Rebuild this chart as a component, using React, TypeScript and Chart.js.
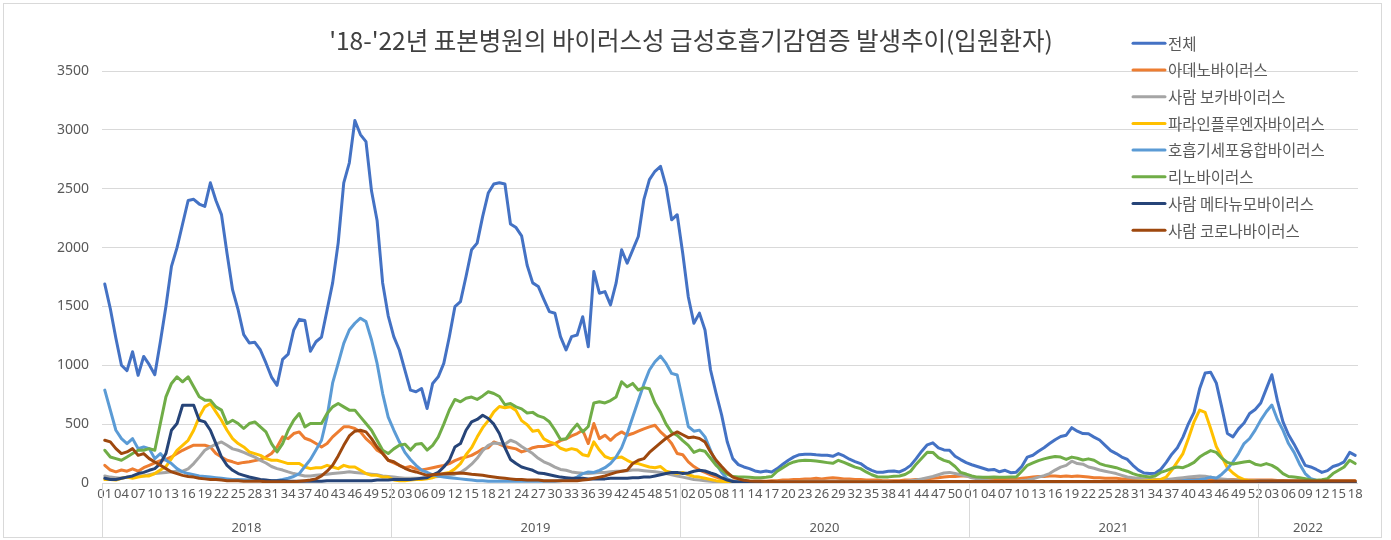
import React, { useEffect, useRef } from "react";
import { Chart, registerables } from "chart.js";

Chart.register(...registerables);

const TITLE = "'18-'22년 표본병원의 바이러스성 급성호흡기감염증 발생추이(입원환자)";
const years = ["2018", "2019", "2020", "2021", "2022"];
const weeksPerYear = [52, 52, 52, 52, 18];
const yMax = 3500;
const yStep = 500;
const seriesNames = [
  "전체",
  "아데노바이러스",
  "사람 보카바이러스",
  "파라인플루엔자바이러스",
  "호흡기세포융합바이러스",
  "리노바이러스",
  "사람 메타뉴모바이러스",
  "사람 코로나바이러스",
];
const seriesColors = ["#4472C4", "#ED7D31", "#A5A5A5", "#FFC000", "#5B9BD5", "#70AD47", "#264478", "#9E480E"];

// 전체
const total = [
  1690, 1480, 1230, 1000, 955, 1115, 915, 1075, 1005, 920,
  1200, 1500, 1840, 2000, 2200, 2400, 2410, 2370, 2350, 2550,
  2400, 2280, 1950, 1640, 1470, 1260, 1190, 1195, 1130, 1020,
  900, 830, 1050, 1095, 1300, 1390, 1380, 1120, 1200, 1240,
  1470, 1700, 2040, 2550, 2720, 3080, 2960, 2900, 2480, 2230,
  1700, 1420,
  1243, 1130, 959, 789, 775, 803, 633, 846, 902, 1016,
  1243, 1498, 1541, 1754, 1981, 2038, 2265, 2463, 2540, 2550,
  2540, 2200, 2170, 2100, 1850, 1700, 1670, 1560, 1456, 1442,
  1243, 1130, 1243, 1257, 1413, 1158, 1796, 1612, 1626, 1513,
  1697, 1981, 1867, 1981, 2094, 2407, 2577, 2648, 2690, 2520,
  2236, 2279,
  1950, 1580, 1357, 1443, 1300, 960, 761, 577, 350, 207,
  156, 136, 122, 102, 94, 102, 94, 122, 159, 193,
  222, 241, 244, 244, 239, 236, 236, 227, 250, 230,
  202, 182, 165, 131, 108, 91, 91, 99, 102, 94,
  116, 150, 207, 270, 324, 341, 298, 281, 278, 227,
  199, 173,
  155, 140, 125, 110, 115, 95, 108, 88, 92, 140,
  220, 236, 270, 300, 335, 368, 395, 406, 470, 440,
  420, 418, 390, 365, 320, 275, 250, 220, 200, 150,
  110, 85, 80, 82, 115, 175, 245, 300, 390, 505,
  600, 800, 935, 940, 850, 640, 420, 392, 460, 510,
  590, 625,
  680, 800, 920, 700, 520, 410, 330, 240, 150, 136,
  115, 90, 105, 140, 155, 180, 260, 235,
];

// 아데노바이러스
const adeno = [
  150, 110, 95, 110, 100, 120, 100, 130, 150, 170,
  190, 200, 221, 250, 278, 300, 321, 321, 321, 306,
  250, 220, 193, 180, 165, 175, 180, 190, 200, 220,
  250, 306, 392, 377, 420, 434, 380, 363, 335, 306,
  335, 392, 434, 477, 477, 463, 434, 377, 335, 278,
  250, 193,
  170, 150, 130, 140, 120, 110, 120, 130, 140, 150,
  165, 190, 210, 220, 235, 260, 292, 300, 349, 330,
  310, 300, 290, 264, 278, 300, 310, 310, 321, 335,
  360, 375, 400, 420, 448, 335, 505, 377, 406, 363,
  406, 434, 406, 420, 440, 460, 477, 491, 434, 392,
  335, 250,
  240, 180, 140, 110, 90, 70, 50, 35, 25, 20,
  15, 15, 15, 15, 15, 15, 20, 20, 25, 25,
  30, 30, 35, 35, 40, 35, 40, 45, 40, 35,
  35, 30, 30, 25, 25, 25, 20, 20, 20, 20,
  25, 25, 30, 30, 35, 40, 45, 50, 55, 55,
  60, 60,
  50, 45, 40, 40, 35, 35, 30, 30, 35, 40,
  45, 50, 55, 55, 60, 60, 55, 60, 55, 60,
  55, 50, 45, 45, 40, 40, 40, 35, 35, 30,
  30, 30, 25, 25, 25, 25, 25, 30, 30, 30,
  35, 35, 35, 35, 30, 30, 30, 30, 25, 25,
  25, 25,
  25, 25, 25, 22, 22, 20, 20, 20, 20, 20,
  20, 20, 20, 20, 20, 20, 20, 20,
];

// 사람 보카바이러스
const boca = [
  60, 50, 45, 40, 50, 50, 60, 60, 70, 80,
  85, 90, 95, 100, 100, 120, 165, 220, 278, 306,
  330, 349, 320, 290, 278, 260, 240, 220, 193, 170,
  140, 122, 110, 94, 80, 70, 60, 60, 65, 70,
  75, 80, 85, 90, 95, 90, 85, 80, 75, 70,
  60, 55,
  50, 45, 40, 40, 40, 40, 45, 50, 55, 60,
  65, 75, 90, 120, 160, 210, 275, 320, 340, 335,
  330, 363, 345, 310, 280, 250, 210, 180, 160, 135,
  115, 108, 94, 88, 82, 80, 85, 90, 90, 95,
  100, 100, 105, 110, 110, 105, 100, 95, 90, 80,
  70, 60,
  50, 40, 30, 25, 20, 15, 10, 8, 5, 5,
  5, 5, 5, 5, 5, 5, 5, 8, 10, 10,
  12, 12, 15, 15, 15, 15, 15, 15, 15, 15,
  15, 12, 12, 12, 10, 10, 10, 10, 12, 12,
  15, 20, 25, 35, 45, 55, 70, 85, 90, 80,
  70, 60,
  45, 35, 25, 20, 15, 12, 12, 15, 15, 20,
  25, 35, 50, 62, 80, 110, 135, 150, 185, 165,
  160, 136, 125, 110, 100, 90, 80, 65, 51, 45,
  40, 35, 30, 30, 30, 30, 35, 40, 45, 50,
  55, 60, 57, 50, 40, 35, 30, 25, 25, 20,
  20, 20,
  20, 20, 18, 16, 15, 15, 15, 14, 12, 12,
  12, 12, 12, 12, 12, 12, 12, 12,
];

// 파라인플루엔자바이러스
const para = [
  30, 30, 25, 40, 50, 40, 50, 60, 60, 80,
  110, 140, 207, 278, 320, 363, 448, 562, 647, 675,
  604, 533, 448, 377, 335, 306, 264, 250, 235, 207,
  193, 193, 179, 165, 165, 165, 136, 122, 130, 130,
  150, 136, 122, 150, 136, 136, 108, 80, 65, 65,
  51, 51,
  25, 20, 20, 25, 30, 30, 35, 45, 65, 80,
  90, 120, 165, 240, 300, 390, 470, 530, 604, 650,
  640, 647, 615, 530, 495, 440, 448, 375, 349, 335,
  295, 278, 292, 280, 240, 230, 349, 280, 225, 207,
  215, 220, 193, 170, 165, 150, 136, 130, 140, 100,
  90, 80,
  90, 70, 55, 50, 40, 30, 20, 15, 10, 8,
  5, 4, 3, 3, 2, 2, 3, 3, 4, 5,
  5, 6, 6, 5, 5, 4, 4, 5, 5, 6,
  6, 7, 7, 6, 5, 5, 4, 4, 5, 5,
  6, 6, 7, 8, 8, 9, 10, 10, 12, 12,
  12, 12,
  10, 8, 8, 6, 6, 5, 5, 5, 6, 6,
  8, 8, 10, 10, 12, 12, 12, 12, 10, 10,
  10, 8, 8, 8, 8, 8, 8, 10, 10, 12,
  15, 18, 22, 26, 30, 51, 110, 180, 250, 380,
  520, 620, 600, 460, 310, 222, 130, 85, 50, 28,
  20, 15,
  12, 10, 10, 8, 8, 8, 6, 6, 6, 5,
  5, 5, 5, 5, 5, 5, 5, 5,
];

// 호흡기세포융합바이러스
const rsv = [
  789, 619, 448, 377, 335, 377, 292, 306, 292, 207,
  250, 193, 165, 122, 94, 80, 70, 60, 55, 50,
  45, 40, 35, 30, 30, 28, 25, 25, 22, 20,
  20, 22, 30, 40, 55, 80, 140, 200, 280, 363,
  562, 850, 1016, 1186, 1300, 1357, 1400, 1371, 1215, 1016,
  760, 560,
  450, 350, 260, 200, 150, 110, 90, 70, 60, 50,
  45, 40, 35, 30, 25, 20, 20, 15, 15, 15,
  15, 15, 15, 15, 15, 15, 15, 15, 15, 15,
  20, 25, 30, 50, 80, 94, 90, 108, 130, 165,
  220, 300, 420, 560, 700, 840, 960, 1030, 1078, 1016,
  931, 917,
  700, 480, 440, 449, 392, 278, 165, 90, 35, 15,
  10, 8, 5, 4, 3, 3, 2, 2, 2, 2,
  2, 2, 2, 2, 2, 2, 2, 2, 2, 2,
  2, 2, 2, 2, 2, 2, 2, 2, 3, 3,
  3, 3, 3, 3, 3, 3, 4, 4, 4, 5,
  5, 5,
  5, 5, 4, 4, 4, 4, 3, 3, 3, 3,
  3, 3, 3, 4, 4, 4, 5, 5, 5, 5,
  5, 5, 6, 6, 6, 6, 6, 6, 6, 6,
  5, 5, 5, 5, 6, 8, 10, 15, 20, 25,
  25, 30, 37, 50, 40, 75, 120, 180, 250, 335,
  378, 449,
  534, 605, 662, 540, 449, 335, 260, 160, 80, 37,
  23, 15, 10, 8, 5, 5, 5, 5,
];

// 리노바이러스
const rhino = [
  278, 221, 207, 193, 221, 250, 278, 278, 292, 278,
  505, 732, 846, 902, 860, 902, 817, 732, 704, 704,
  647, 619, 505, 533, 505, 463, 505, 519, 477, 434,
  335, 264, 335, 448, 533, 590, 477, 505, 505, 505,
  590, 647, 675, 647, 619, 619, 562, 505, 448, 363,
  278, 250,
  290, 320, 330, 280, 330, 335, 280, 320, 390, 500,
  620, 710, 690, 720, 730, 710, 740, 775, 760, 735,
  665, 675, 647, 630, 595, 600, 570, 555, 520, 450,
  370, 375, 445, 500, 435, 480, 680, 690, 680, 700,
  730, 860, 817, 846, 790, 810, 800, 680, 600, 500,
  430, 405,
  360, 320, 260, 280, 270, 210, 150, 110, 75, 55,
  50, 50, 48, 45, 45, 48, 55, 100, 130, 160,
  179, 190, 193, 192, 187, 180, 173, 167, 193, 175,
  155, 135, 122, 94, 70, 53, 51, 52, 57, 60,
  72, 100, 160, 210, 262, 260, 215, 192, 178, 140,
  90, 76,
  60, 50, 48, 48, 50, 48, 48, 50, 51, 100,
  150, 170, 190, 205, 216, 225, 220, 200, 220, 210,
  195, 205, 193, 165, 150, 140, 130, 114, 100, 80,
  65, 57, 51, 60, 90, 105, 125, 136, 130, 150,
  175, 220, 250, 275, 260, 210, 175, 162, 170, 179,
  185, 160,
  150, 165, 150, 122, 80, 55, 51, 45, 37, 25,
  23, 28, 37, 80, 108, 136, 193, 165,
];

// 사람 메타뉴모바이러스
const meta = [
  40, 30, 30, 40, 50, 60, 80, 90, 108, 122,
  165, 250, 448, 505, 661, 661, 661, 533, 519, 448,
  335, 221, 150, 108, 80, 65, 51, 40, 30, 25,
  20, 20, 20, 15, 15, 15, 15, 15, 15, 15,
  20, 20, 20, 20, 20, 20, 20, 20, 20, 25,
  25, 25,
  30, 30, 30, 30, 35, 40, 45, 70, 90, 136,
  193, 306, 335, 448, 519, 540, 576, 548, 500, 420,
  300, 200, 165, 136, 122, 108, 85, 80, 70, 60,
  50, 45, 40, 40, 40, 35, 35, 35, 35, 40,
  40, 40, 40, 45, 45, 50, 50, 60, 70, 80,
  90, 90,
  80, 85, 100, 108, 102, 85, 70, 45, 25, 12,
  8, 5, 4, 4, 3, 3, 3, 3, 3, 3,
  3, 3, 3, 3, 3, 3, 3, 3, 3, 3,
  3, 3, 3, 3, 3, 3, 3, 3, 3, 3,
  3, 3, 3, 3, 3, 3, 3, 3, 3, 4,
  4, 4,
  4, 4, 4, 3, 3, 3, 3, 3, 3, 3,
  3, 3, 3, 3, 3, 3, 3, 3, 3, 3,
  3, 3, 3, 3, 3, 3, 3, 3, 3, 3,
  3, 3, 3, 3, 3, 3, 3, 3, 3, 3,
  3, 3, 3, 3, 3, 4, 4, 4, 4, 4,
  5, 5,
  5, 5, 5, 5, 5, 5, 4, 4, 4, 4,
  4, 4, 4, 4, 4, 4, 4, 4,
];

// 사람 코로나바이러스
const corona = [
  363, 349, 292, 250, 264, 292, 235, 250, 207, 179,
  150, 122, 94, 80, 65, 55, 50, 40, 35, 30,
  30, 25, 20, 20, 20, 15, 15, 15, 15, 10,
  10, 10, 10, 10, 10, 15, 20, 25, 35, 60,
  100, 150, 230, 320, 400, 440, 448, 434, 377, 306,
  250, 193,
  180, 150, 125, 105, 94, 80, 65, 70, 74, 78,
  80, 82, 85, 80, 74, 70, 65, 58, 51, 45,
  40, 35, 30, 30, 25, 25, 25, 20, 20, 20,
  20, 20, 20, 20, 25, 30, 40, 50, 60, 75,
  90, 100, 108, 165, 193, 207, 260, 300, 340, 380,
  410, 434,
  410, 385, 390, 378, 349, 264, 193, 140, 90, 50,
  35, 23, 18, 15, 15, 12, 12, 10, 10, 10,
  10, 10, 10, 10, 10, 10, 10, 10, 10, 10,
  10, 10, 10, 10, 10, 10, 10, 10, 12, 12,
  12, 12, 12, 12, 12, 12, 12, 12, 12, 12,
  12, 12,
  12, 12, 12, 12, 12, 12, 12, 12, 12, 12,
  12, 12, 12, 12, 13, 13, 13, 13, 13, 13,
  13, 13, 13, 13, 13, 13, 12, 12, 12, 12,
  12, 12, 12, 12, 12, 12, 12, 12, 12, 12,
  13, 13, 13, 13, 14, 14, 14, 14, 15, 15,
  15, 15,
  16, 16, 17, 17, 18, 18, 18, 18, 18, 18,
  18, 18, 18, 18, 18, 18, 18, 18,
];

const seriesValues = [total, adeno, boca, para, rsv, rhino, meta, corona];

const weekLabels: string[] = [];
years.forEach((_y, yi) => {
  for (let w = 1; w <= weeksPerYear[yi]; w++) weekLabels.push(String(w).padStart(2, "0"));
});

const W = 1391;
const H = 540;
const KR = "'Noto Sans CJK KR', 'Noto Sans', sans-serif";
const NUM = "'Noto Sans', 'Noto Sans CJK KR', sans-serif";

const decorPlugin = {
  id: "decor",
  beforeDraw(chart: any) {
    const { ctx } = chart;
    ctx.save();
    ctx.fillStyle = "#ffffff";
    ctx.fillRect(0, 0, W, H);
    ctx.restore();
  },
  afterDraw(chart: any) {
    const { ctx, chartArea, scales } = chart;
    const xs = scales.x;
    ctx.save();
    // chart frame
    ctx.strokeStyle = "#d9d9d9";
    ctx.lineWidth = 1;
    ctx.strokeRect(3.5, 3.5, 1378, 534);

    // title
    ctx.fillStyle = "#404040";
    ctx.font = `24.5px ${KR}`;
    ctx.textAlign = "center";
    ctx.textBaseline = "middle";
    ctx.fillText(TITLE, 691, 41);

    // year group dividers and labels
    const cw = xs.getPixelForValue(1) - xs.getPixelForValue(0);
    let start = 0;
    ctx.font = `13px ${NUM}`;
    ctx.fillStyle = "#595959";
    ctx.strokeStyle = "#d9d9d9";
    years.forEach((y, yi) => {
      const x0 = xs.getPixelForValue(start) - cw / 2;
      const x1 = xs.getPixelForValue(start + weeksPerYear[yi] - 1) + cw / 2;
      const xd = Math.round(x0) + 0.5;
      ctx.beginPath();
      ctx.moveTo(xd, chartArea.bottom);
      ctx.lineTo(xd, 537);
      ctx.stroke();
      ctx.fillText(y, (x0 + x1) / 2, 528);
      start += weeksPerYear[yi];
    });

    // legend
    ctx.textAlign = "left";
    ctx.font = `15.5px ${KR}`;
    seriesNames.forEach((name, i) => {
      const y = 43.3 + 26.7 * i;
      ctx.strokeStyle = seriesColors[i];
      ctx.lineWidth = 3;
      ctx.lineCap = "round";
      ctx.beginPath();
      ctx.moveTo(1133, y);
      ctx.lineTo(1165, y);
      ctx.stroke();
      ctx.fillStyle = "#595959";
      ctx.fillText(name, 1168, y + 0.5);
    });

    // data length sanity
    const bad = seriesValues.map((s) => s.length).filter((n) => n !== weekLabels.length);
    if (bad.length) {
      ctx.fillStyle = "red";
      ctx.font = "12px sans-serif";
      ctx.fillText("len " + seriesValues.map((s) => s.length).join(","), 10, 15);
    }
    ctx.restore();
  },
};

export default function App() {
  const ref = useRef<HTMLCanvasElement | null>(null);
  useEffect(() => {
    if (!ref.current) return;
    const chart = new Chart(ref.current, {
      type: "line",
      data: {
        labels: weekLabels,
        datasets: seriesNames.map((name, i) => ({
          label: name,
          data: seriesValues[i],
          borderColor: seriesColors[i],
          backgroundColor: seriesColors[i],
          borderWidth: 3,
          pointRadius: 0,
          pointHoverRadius: 0,
          tension: 0,
          fill: false,
          borderJoinStyle: "round" as const,
          borderCapStyle: "round" as const,
          order: seriesNames.length - 1 - i,
        })),
      },
      options: {
        animation: false,
        responsive: false,
        maintainAspectRatio: false,
        events: [],
        layout: { padding: { left: 0, right: W - 1358, top: 71, bottom: 0 } },
        plugins: {
          legend: { display: false },
          title: { display: false },
          tooltip: { enabled: false },
        },
        scales: {
          x: {
            type: "category",
            offset: true,
            grid: { display: false, drawTicks: false },
            border: { display: false },
            afterFit: (s: any) => {
              s.height = 57;
            },
            ticks: {
              autoSkip: false,
              maxRotation: 0,
              minRotation: 0,
              padding: 3,
              color: "#595959",
              font: { size: 13, family: NUM },
              callback: (_v: any, idx: number) => (idx % 3 === 0 ? weekLabels[idx] : ""),
            },
          },
          y: {
            min: 0,
            max: yMax,
            grid: { color: "#d9d9d9", lineWidth: 1, drawTicks: false },
            border: { display: false },
            afterFit: (s: any) => {
              s.width = 102;
            },
            ticks: {
              stepSize: yStep,
              padding: 13,
              color: "#595959",
              font: { size: 14, family: NUM },
              callback: (v: any) => String(v),
            },
          },
        },
      },
      plugins: [decorPlugin],
    });
    return () => chart.destroy();
  }, []);

  return (
    <div style={{ position: "fixed", left: 0, top: 0, width: W, height: H, background: "#fff" }}>
      <canvas ref={ref} width={W} height={H} style={{ width: W, height: H, display: "block" }} />
    </div>
  );
}
